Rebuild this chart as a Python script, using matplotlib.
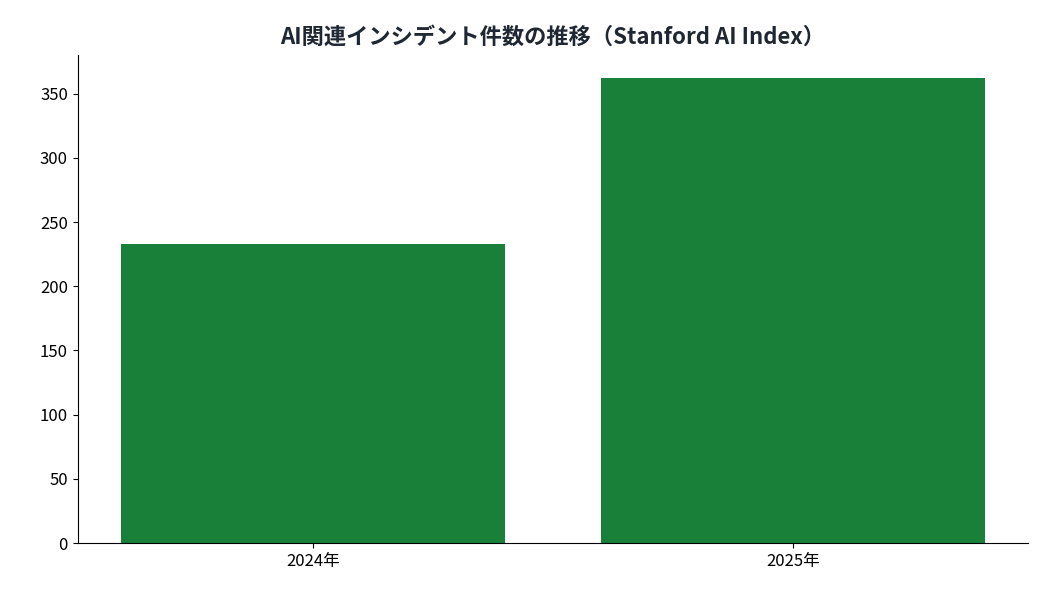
import matplotlib.pyplot as plt

plt.rcParams['font.family'] = ['Noto Sans CJK JP', 'DejaVu Sans']

years = ['2024年', '2025年']
incidents = [233, 362]

fig, ax = plt.subplots(figsize=(10.5, 6), dpi=100)
fig.subplots_adjust(left=0.074, right=0.979, top=0.908, bottom=0.095)

ax.bar(years, incidents, color='#188038', width=0.8)
ax.set_title('AI関連インシデント件数の推移（Stanford AI Index）',
             fontsize=16, fontweight='bold', color='#1f2733', pad=8)
ax.set_ylim(0, 380)
ax.set_yticks(range(0, 351, 50))
ax.tick_params(labelsize=12)
ax.spines['top'].set_visible(False)
ax.spines['right'].set_visible(False)

fig.savefig('out.png')
